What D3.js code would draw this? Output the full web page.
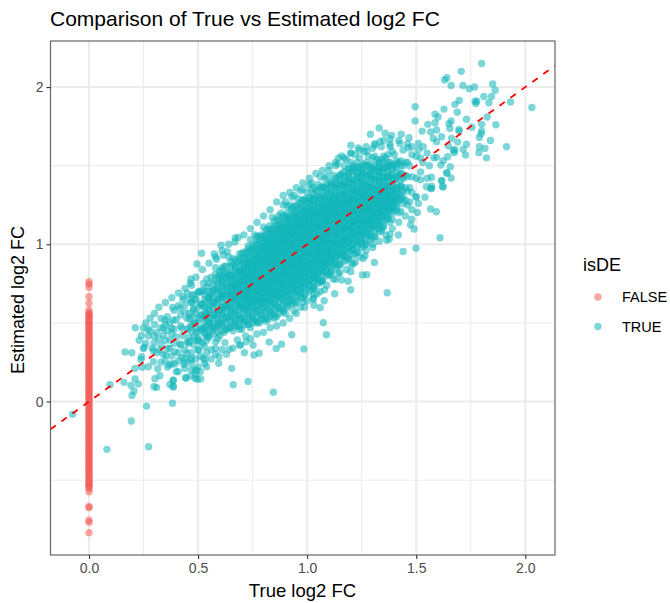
<!DOCTYPE html>
<html><head><meta charset="utf-8">
<script src="https://cdn.jsdelivr.net/npm/d3@7/dist/d3.min.js"></script>
<style>html,body{margin:0;padding:0;background:#fff}svg{display:block}text{font-family:"Liberation Sans",Arial,sans-serif}</style>
</head><body><svg id="c" width="670" height="603"></svg>
<script>
const xMajor=[0,0.5,1,1.5,2], xMinor=[0.25,0.75,1.25,1.75];
const yMajor=[0,1,2], yMinor=[-0.5,0.5,1.5];
const xTickLabels=["0.0","0.5","1.0","1.5","2.0"], yTickLabels=["0","1","2"];
const legendLabels=["FALSE","TRUE"];
const notDE=[0.762,0.747,0.725,0.667,0.625,0.582,0.565,0.555,0.548,0.54,0.53,0.522,0.51,0.5,0.492,0.48,0.472,0.46,0.45,0.441,0.43,0.42,0.413,0.4,0.39,0.383,0.37,0.36,0.352,0.34,0.33,0.321,0.31,0.3,0.292,0.28,0.27,0.261,0.25,0.24,0.232,0.22,0.21,0.2,0.192,0.18,0.17,0.161,0.15,0.14,0.13,0.122,0.11,0.1,0.091,0.08,0.07,0.062,0.05,0.04,0.03,0.02,0.012,0,-0.01,-0.02,-0.028,-0.04,-0.05,-0.06,-0.07,-0.08,-0.09,-0.1,-0.11,-0.12,-0.13,-0.14,-0.15,-0.16,-0.17,-0.18,-0.19,-0.2,-0.21,-0.22,-0.23,-0.24,-0.25,-0.26,-0.27,-0.28,-0.29,-0.3,-0.31,-0.32,-0.33,-0.34,-0.35,-0.36,-0.37,-0.38,-0.39,-0.4,-0.41,-0.42,-0.43,-0.44,-0.45,-0.46,-0.47,-0.48,-0.49,-0.5,-0.51,-0.52,-0.53,-0.535,-0.545,-0.553,-0.574,-0.668,-0.675,-0.755,-0.767,-0.834];
// scattered outer points: [true, estimated]
const deX=[1.8,1.706,1.64,1.63,1.66,1.714,1.743,1.767,1.85,1.862,1.81,1.845,1.833,1.932,2.03,1.777,1.773,1.77,1.697,1.677,1.495,1.495,1.627,1.688,1.586,1.6,1.825,1.73,1.66,1.65,1.654,1.553,1.586,1.8,1.865,1.696,1.696,1.755,1.8,1.797,1.789,1.84,1.527,1.566,1.593,1.578,1.616,1.467,1.662,1.69,1.73,1.914,1.79,1.815,1.787,1.822,1.647,1.715,1.67,1.674,1.726,1.644,1.624,1.613,1.656,1.593,1.64,1.66,1.616,1.62,1.567,1.566,1.592,1.505,1.49,1.479,1.474,1.33,1.29,1.357,1.387,1.431,1.2,1.234,1.2,1.273,1.158,1.143,1.334,1.31,1.38,1.425,1.463,1.51,1.532,1.593,1.677,1.64,1.617,1.624,1.57,1.547,1.57,1.609,1.418,1.38,1.341,1.499,1.376,1.364,1.499,1.44,1.302,1.308,1.265,1.257,1.22,1.273,1.253,1.367,1.2,1.188,1.2,1.126,1.08,1.078,1.074,1.088,0.929,0.985,1.06,1.028,1.028,1.031,0.988,1.046,1.031,0.94,0.982,1.13,1.158,1.104,1.143,1.066,1.204,1.18,0.605,0.516,0.495,0.467,0.464,0.574,0.58,0.684,0.669,0.634,0.615,0.585,0.524,0.577,0.6,0.383,0.432,0.47,0.501,0.654,0.661,0.729,0.845,0.883,0.858,0.826,0.78,0.756,0.752,0.712,0.718,0.68,0.695,0.643,0.623,0.594,0.596,0.58,0.539,0.532,0.512,0.496,0.466,0.443,0.486,0.409,0.386,0.386,0.394,0.435,0.425,0.448,0.463,0.394,0.417,0.455,0.501,0.501,0.539,0.386,0.425,0.417,0.448,0.486,0.532,0.555,0.593,0.478,0.516,0.486,0.44,0.555,0.212,0.249,0.33,0.359,0.28,0.272,0.299,0.348,0.341,0.379,0.299,0.341,0.371,0.371,0.165,0.196,0.249,0.241,0.238,0.295,0.295,0.325,0.353,0.211,0.244,0.272,0.315,0.368,0.325,0.302,0.298,0.31,0.211,0.16,0.192,0.226,0.206,0.197,0.096,-0.075,0.264,0.383,0.194,0.082,0.273,0.371,0.386,0.386,0.445,0.486,0.493,0.47,0.44,0.524,0.253];
const deY=[2.15,2.1,2.06,2.045,2.01,2.01,1.99,2,2.02,1.98,1.94,1.94,1.9,1.905,1.87,1.91,1.895,1.91,1.915,1.89,1.875,1.785,1.86,1.84,1.827,1.81,1.81,1.795,1.785,1.767,1.737,1.763,1.773,1.763,1.76,1.73,1.72,1.745,1.72,1.703,1.68,1.66,1.72,1.714,1.727,1.674,1.684,1.678,1.674,1.65,1.636,1.62,1.62,1.61,1.583,1.55,1.627,1.604,1.6,1.583,1.568,1.557,1.532,1.504,1.494,1.553,1.452,1.422,1.405,1.366,1.354,1.225,1.207,1.203,1.097,1.16,1.123,1.74,1.7,1.706,1.693,1.7,1.63,1.613,1.58,1.59,1.562,1.547,1.653,1.64,1.636,1.64,1.614,1.642,1.62,1.653,1.6,1.456,1.405,1.366,1.426,1.366,1.356,1.042,1.059,1.065,1.085,1.303,1.032,1.027,0.975,0.955,1,0.885,0.927,0.91,0.885,0.807,0.805,0.692,0.826,0.765,0.711,0.686,0.711,0.641,0.501,0.425,0.425,0.334,0.597,0.652,0.655,0.612,0.6,0.684,0.726,0.576,0.635,0.777,0.773,0.805,0.815,0.762,0.868,0.921,0.994,0.943,0.875,0.779,0.752,0.938,0.851,1.044,1.015,0.953,0.932,0.905,0.752,0.773,0.805,0.599,0.667,0.677,0.698,0.211,0.107,0.128,0.059,0.364,0.338,0.378,0.307,0.296,0.359,0.31,0.417,0.391,0.359,0.332,0.374,0.243,0.285,0.338,0.221,0.268,0.143,0.141,0.164,0.151,0.2,0.19,0.132,0.094,0.239,0.237,0.281,0.307,0.264,0.317,0.366,0.37,0.328,0.391,0.412,0.518,0.466,0.593,0.529,0.497,0.539,0.497,0.508,0.582,0.614,0.646,0.614,0.667,0.469,0.468,0.529,0.539,0.45,0.417,0.417,0.518,0.466,0.466,0.374,0.423,0.391,0.338,0.315,0.31,0.338,0.285,0.268,0.323,0.253,0.328,0.296,0.211,0.218,0.221,0.209,0.232,0.164,0.145,0.094,0.09,0.143,0.122,0.103,0.111,0.067,0.039,0.107,-0.081,-0.029,-0.011,-0.124,-0.304,-0.288,0.109,0.094,0.137,0.15,0.148,0.2,0.275,0.275,0.275,0.345];
// points around the rim of the band
const rimX=[0.45,0.47,0.43,0.41,0.39,0.44,0.46,0.42,0.4,0.37,0.35,0.33,0.31,0.36,0.39,0.42,0.45,0.47,0.5,0.52,0.49,0.46,0.43,0.4,0.38,0.35,0.32,0.33,0.36,0.39,0.42,0.45,0.48,0.51,0.53,0.5,0.47,0.44,0.41,0.38,0.35,0.38,0.41,0.44,0.47,0.49,0.51,0.54,0.56,0.58,0.56,0.53,0.5,0.47,0.49,0.51,0.44,0.61,0.63,0.66,0.69,0.72,0.74,0.77,0.8,0.83,0.86,0.89,0.92,0.95,0.97,1,1.03,1.06,1.09,1.12,1.15,1.18,1.21,1.24,1.27,1.3,1.33,1.36,1.39,1.42,1.45,1.48,1.51,1.54,1.57,1.55,1.52,1.56,1.53,1.58,1.55,1.51,1.48,1.46,1.42,1.38,1.35,1.31,1.27,1.24,1.2,1.17,1.13,1.1,1.07,1.04,1.01,0.98,0.95,0.92,0.89,0.86,0.83,0.8,0.77,0.74,0.71,0.67,0.64,0.61,0.58,0.55,0.52,0.49,0.47,0.44,0.41,0.38,0.35,0.32,0.3,0.28,0.26,0.3,0.27,0.24,0.23,0.26,0.29,0.31,0.34,0.33,0.36,0.4];
const rimY=[0.69,0.63,0.65,0.61,0.58,0.57,0.53,0.55,0.52,0.5,0.49,0.47,0.44,0.45,0.46,0.48,0.46,0.49,0.51,0.47,0.44,0.41,0.42,0.41,0.43,0.39,0.4,0.36,0.34,0.37,0.36,0.38,0.36,0.38,0.35,0.33,0.31,0.33,0.31,0.29,0.26,0.24,0.26,0.25,0.24,0.27,0.29,0.31,0.33,0.3,0.27,0.24,0.22,0.2,0.17,0.19,0.21,0.33,0.3,0.34,0.36,0.38,0.4,0.43,0.44,0.47,0.48,0.5,0.53,0.56,0.6,0.64,0.68,0.7,0.74,0.78,0.82,0.84,0.88,0.92,0.96,0.98,1.02,1.06,1.1,1.14,1.18,1.22,1.26,1.3,1.37,1.42,1.46,1.5,1.52,1.55,1.58,1.6,1.62,1.64,1.66,1.67,1.66,1.63,1.62,1.6,1.58,1.55,1.52,1.5,1.47,1.45,1.42,1.39,1.36,1.33,1.31,1.27,1.22,1.18,1.14,1.1,1.06,1.04,1,0.96,0.92,0.88,0.84,0.79,0.74,0.72,0.69,0.66,0.63,0.6,0.56,0.53,0.5,0.49,0.46,0.42,0.39,0.37,0.34,0.31,0.3,0.25,0.22,0.19];
// dense body of the cloud: one list of estimated values per true-value column
const coreX=[0.46,0.48,0.5,0.52,0.54,0.56,0.58,0.6,0.62,0.64,0.66,0.68,0.7,0.72,0.74,0.76,0.78,0.8,0.82,0.84,0.86,0.88,0.9,0.92,0.94,0.96,0.98,1,1.02,1.04,1.06,1.08,1.1,1.12,1.14,1.16,1.18,1.2,1.22,1.24,1.26,1.28,1.3,1.32,1.34,1.36,1.38,1.4,1.42,1.44,1.46,1.48,1.5,1.52];
const coreY=[
[0.38,0.47,0.56,0.65],
[0.41,0.5,0.59,0.68],
[0.4,0.44,0.53,0.6,0.69],
[0.37,0.46,0.55,0.62,0.71],
[0.39,0.48,0.56,0.64,0.73,0.78],
[0.45,0.53,0.61,0.69,0.79],
[0.38,0.47,0.55,0.63,0.71,0.81],
[0.42,0.5,0.58,0.66,0.7,0.78,0.83],
[0.44,0.52,0.59,0.66,0.73,0.81,0.86],
[0.47,0.54,0.61,0.68,0.75,0.78,0.82,0.92],
[0.45,0.52,0.59,0.66,0.69,0.73,0.76,0.8,0.87,0.91],
[0.48,0.55,0.62,0.65,0.68,0.72,0.75,0.78,0.82,0.89],
[0.46,0.53,0.6,0.63,0.67,0.7,0.73,0.77,0.8,0.83,0.87,0.94],
[0.51,0.58,0.61,0.64,0.68,0.71,0.74,0.78,0.81,0.84,0.88,0.91,0.95],
[0.47,0.54,0.61,0.65,0.68,0.72,0.75,0.79,0.82,0.85,0.89,0.92,0.96,1.03],
[0.52,0.59,0.63,0.66,0.7,0.73,0.76,0.8,0.83,0.87,0.9,0.93,0.97,1,1.06],
[0.5,0.57,0.61,0.64,0.67,0.71,0.74,0.78,0.81,0.84,0.88,0.91,0.94,0.98,1.01,1.05],
[0.53,0.6,0.64,0.67,0.71,0.75,0.78,0.82,0.85,0.89,0.92,0.95,0.99,1.02,1.05,1.11],
[0.52,0.59,0.63,0.66,0.7,0.73,0.76,0.8,0.83,0.86,0.9,0.93,0.97,1,1.03,1.07,1.1],
[0.55,0.62,0.66,0.69,0.72,0.76,0.79,0.83,0.86,0.89,0.93,0.96,1,1.03,1.07,1.1,1.17],
[0.54,0.61,0.65,0.68,0.71,0.75,0.78,0.82,0.85,0.88,0.92,0.95,0.99,1.02,1.05,1.09,1.12,1.16],
[0.59,0.66,0.69,0.72,0.76,0.79,0.83,0.86,0.9,0.93,0.96,1,1.03,1.07,1.1,1.13,1.2],
[0.56,0.63,0.67,0.7,0.73,0.77,0.8,0.84,0.87,0.91,0.94,0.97,1.01,1.04,1.08,1.11,1.14,1.18,1.27],
[0.64,0.67,0.71,0.74,0.77,0.81,0.84,0.88,0.91,0.94,0.98,1.01,1.05,1.08,1.11,1.15,1.18,1.25],
[0.62,0.69,0.72,0.76,0.79,0.82,0.86,0.89,0.93,0.96,0.99,1.03,1.06,1.1,1.13,1.17,1.2,1.24,1.31],
[0.68,0.71,0.74,0.78,0.81,0.85,0.88,0.91,0.95,0.98,1.02,1.05,1.08,1.12,1.15,1.19,1.22,1.29],
[0.66,0.73,0.77,0.8,0.83,0.87,0.9,0.94,0.97,1,1.04,1.07,1.11,1.14,1.17,1.21,1.24,1.28,1.35],
[0.72,0.76,0.79,0.83,0.86,0.89,0.93,0.96,1,1.03,1.06,1.1,1.13,1.17,1.2,1.23,1.27,1.33],
[0.71,0.78,0.81,0.85,0.88,0.92,0.95,0.98,1.02,1.05,1.09,1.12,1.15,1.19,1.22,1.26,1.29,1.35,1.39],
[0.77,0.8,0.83,0.87,0.9,0.94,0.97,1,1.04,1.07,1.11,1.14,1.17,1.21,1.24,1.28,1.34],
[0.76,0.83,0.86,0.89,0.93,0.96,1,1.03,1.06,1.1,1.13,1.17,1.2,1.23,1.27,1.3,1.36,1.43],
[0.82,0.86,0.89,0.92,0.96,0.99,1.03,1.06,1.09,1.13,1.16,1.2,1.23,1.26,1.3,1.36,1.42],
[0.81,0.88,0.91,0.95,0.98,1.02,1.05,1.08,1.12,1.15,1.19,1.22,1.25,1.29,1.32,1.38,1.47],
[0.87,0.91,0.94,0.97,1.01,1.04,1.08,1.11,1.14,1.18,1.21,1.25,1.28,1.31,1.37,1.44],
[0.86,0.93,0.96,1,1.03,1.07,1.1,1.13,1.17,1.2,1.24,1.27,1.3,1.36,1.42,1.51],
[0.92,0.95,0.99,1.02,1.05,1.09,1.12,1.16,1.19,1.22,1.26,1.29,1.32,1.38,1.45],
[0.9,0.97,1.01,1.04,1.08,1.11,1.14,1.18,1.21,1.25,1.28,1.31,1.37,1.43,1.54],
[0.96,0.99,1.03,1.06,1.1,1.13,1.16,1.2,1.23,1.27,1.3,1.33,1.39,1.46,1.52],
[0.94,1.01,1.05,1.08,1.12,1.15,1.18,1.22,1.25,1.29,1.32,1.35,1.41,1.48,1.57],
[1,1.03,1.07,1.1,1.14,1.17,1.2,1.24,1.27,1.3,1.34,1.37,1.43,1.49,1.55],
[0.99,1.06,1.09,1.13,1.16,1.2,1.23,1.26,1.3,1.33,1.36,1.39,1.45,1.51,1.59],
[1.05,1.08,1.12,1.15,1.18,1.22,1.25,1.29,1.32,1.35,1.38,1.44,1.5,1.56],
[1.04,1.11,1.14,1.17,1.21,1.24,1.28,1.31,1.34,1.37,1.43,1.49,1.55,1.61],
[1.1,1.14,1.17,1.2,1.24,1.27,1.3,1.33,1.36,1.42,1.48,1.54],
[1.1,1.17,1.21,1.24,1.27,1.3,1.33,1.36,1.42,1.48,1.54,1.62],
[1.16,1.19,1.23,1.26,1.29,1.32,1.35,1.41,1.48,1.55],
[1.14,1.22,1.25,1.28,1.31,1.34,1.37,1.44,1.52,1.62],
[1.21,1.24,1.28,1.31,1.34,1.41,1.49,1.57],
[1.2,1.28,1.32,1.36,1.44,1.52],
[1.26,1.3,1.34,1.42,1.5,1.6],
[1.25,1.34,1.43,1.52],
[1.33,1.43,1.57],
[1.3,1.42,1.56],
[1.41,1.55]];
const coreXB=[0.61,0.65,0.69,0.73,0.77,0.81,0.85,0.89,0.93,0.97,1.01,1.05,1.09,1.13,1.17,1.21,1.25,1.29,1.33,1.37];
const coreYB=[
[0.6,0.68,0.76],[0.58,0.66,0.73,0.8],[0.61,0.68,0.75,0.82],[0.6,0.66,0.73,0.8,0.87],
[0.64,0.7,0.77,0.84,0.91],[0.66,0.74,0.81,0.88,0.94],[0.7,0.78,0.85,0.92,0.99],[0.74,0.82,0.89,0.96,1.04],
[0.78,0.86,0.93,1,1.08],[0.82,0.9,0.97,1.04,1.12],[0.86,0.94,1.01,1.08,1.16],[0.9,0.98,1.05,1.12,1.2],
[0.95,1.02,1.09,1.16,1.24],[1,1.06,1.13,1.2,1.28],[1.03,1.1,1.17,1.24,1.32],[1.07,1.14,1.21,1.28,1.36],
[1.12,1.18,1.25,1.32,1.4],[1.16,1.22,1.29,1.36,1.44],[1.2,1.27,1.33,1.4,1.46],[1.24,1.31,1.37,1.43,1.5]];
const coreXC=[0.47,0.49,0.51,0.53,0.55,0.57,0.59,0.61,0.63,0.65,0.67,0.69,0.71,0.73,0.75,0.77,0.79,0.81,0.83,0.85,0.87,0.89,0.91,0.93,0.95,0.97,0.99,1.01,1.03,1.05,1.07,1.09,1.11,1.13,1.15,1.17,1.19,1.21,1.23,1.25,1.27,1.29,1.31,1.33,1.35,1.37,1.39,1.41,1.43,1.45,1.47];
const coreYC=[
[0.45,0.54,0.63],
[0.39,0.47,0.56,0.65],
[0.46,0.55,0.62,0.7],
[0.44,0.53,0.6,0.68],
[0.41,0.5,0.58,0.66,0.75],
[0.47,0.55,0.63,0.71],
[0.4,0.49,0.57,0.65,0.73],
[0.48,0.56,0.6,0.68,0.76,0.85],
[0.46,0.53,0.61,0.68,0.72,0.79],
[0.48,0.55,0.63,0.7,0.73,0.8,0.89],
[0.5,0.57,0.64,0.67,0.71,0.74,0.78,0.85],
[0.46,0.53,0.6,0.66,0.7,0.73,0.76,0.83,0.91],
[0.51,0.58,0.61,0.65,0.68,0.71,0.75,0.78,0.81,0.85,0.92],
[0.49,0.56,0.62,0.66,0.69,0.72,0.76,0.79,0.82,0.86,0.89,0.97],
[0.52,0.59,0.63,0.66,0.7,0.73,0.77,0.8,0.83,0.87,0.9,0.97],
[0.5,0.57,0.64,0.68,0.71,0.74,0.78,0.81,0.85,0.88,0.91,0.95,1.05],
[0.55,0.62,0.65,0.69,0.72,0.76,0.79,0.82,0.86,0.89,0.92,0.96,0.99,1.06],
[0.51,0.58,0.65,0.69,0.73,0.76,0.8,0.83,0.87,0.9,0.93,0.97,1,1.03,1.09],
[0.57,0.64,0.68,0.71,0.74,0.78,0.81,0.84,0.88,0.91,0.95,0.98,1.01,1.05,1.12],
[0.53,0.6,0.67,0.7,0.74,0.77,0.81,0.84,0.87,0.91,0.94,0.98,1.01,1.05,1.08,1.15],
[0.59,0.66,0.69,0.73,0.76,0.8,0.83,0.86,0.9,0.93,0.97,1,1.03,1.07,1.1,1.18],
[0.57,0.64,0.7,0.74,0.77,0.81,0.84,0.88,0.91,0.94,0.98,1.01,1.05,1.08,1.11,1.18,1.25],
[0.61,0.68,0.71,0.75,0.78,0.82,0.85,0.89,0.92,0.95,0.99,1.02,1.06,1.09,1.12,1.16,1.24],
[0.65,0.72,0.75,0.79,0.82,0.86,0.89,0.92,0.96,0.99,1.03,1.06,1.09,1.13,1.16,1.23,1.3],
[0.63,0.7,0.74,0.77,0.8,0.84,0.87,0.91,0.94,0.97,1.01,1.04,1.08,1.11,1.15,1.18,1.25],
[0.69,0.72,0.76,0.79,0.83,0.86,0.89,0.93,0.96,1,1.03,1.06,1.1,1.13,1.17,1.2,1.27,1.34],
[0.68,0.75,0.78,0.81,0.85,0.88,0.92,0.95,0.98,1.02,1.05,1.09,1.12,1.15,1.19,1.22,1.29],
[0.74,0.77,0.81,0.84,0.87,0.91,0.94,0.98,1.01,1.04,1.08,1.11,1.15,1.18,1.21,1.28,1.38],
[0.73,0.79,0.83,0.86,0.9,0.93,0.96,1,1.03,1.07,1.1,1.13,1.17,1.2,1.24,1.3,1.36],
[0.78,0.81,0.85,0.88,0.92,0.95,0.98,1.02,1.05,1.09,1.12,1.15,1.19,1.22,1.29,1.38],
[0.77,0.84,0.87,0.91,0.94,0.98,1.01,1.04,1.08,1.11,1.15,1.18,1.21,1.25,1.31,1.37],
[0.84,0.87,0.9,0.94,0.97,1.01,1.04,1.07,1.11,1.14,1.18,1.21,1.24,1.28,1.34,1.43],
[0.83,0.9,0.93,0.96,1,1.03,1.07,1.1,1.13,1.17,1.2,1.23,1.27,1.33,1.39],
[0.89,0.92,0.95,0.99,1.02,1.06,1.09,1.12,1.16,1.19,1.22,1.26,1.32,1.38,1.5],
[0.87,0.94,0.98,1.01,1.04,1.08,1.11,1.15,1.18,1.21,1.25,1.31,1.37,1.44],
[0.93,0.96,1,1.03,1.06,1.1,1.13,1.17,1.2,1.23,1.27,1.33,1.39,1.5],
[0.91,0.98,1.02,1.05,1.09,1.12,1.15,1.19,1.22,1.26,1.29,1.35,1.41,1.48],
[0.97,1,1.04,1.07,1.11,1.14,1.17,1.21,1.24,1.28,1.34,1.4,1.5],
[0.95,1.02,1.06,1.09,1.13,1.16,1.19,1.23,1.26,1.29,1.33,1.39,1.45,1.52],
[1.02,1.05,1.08,1.12,1.15,1.19,1.22,1.25,1.28,1.35,1.41,1.47],
[1,1.07,1.1,1.14,1.17,1.21,1.24,1.27,1.31,1.37,1.43,1.52],
[1.06,1.1,1.13,1.16,1.2,1.23,1.26,1.3,1.36,1.42,1.48],
[1.05,1.12,1.16,1.19,1.22,1.26,1.29,1.35,1.41,1.47,1.56],
[1.12,1.15,1.19,1.22,1.25,1.28,1.34,1.4,1.46,1.52],
[1.11,1.18,1.22,1.25,1.28,1.31,1.37,1.43,1.49,1.56],
[1.17,1.21,1.24,1.27,1.3,1.36,1.42,1.5,1.57],
[1.16,1.23,1.26,1.29,1.35,1.42,1.5,1.59],
[1.22,1.26,1.3,1.36,1.43,1.51],
[1.21,1.29,1.37,1.45,1.53],
[1.28,1.36,1.44,1.52],
[1.27,1.36,1.5]];
const coreXD=[0.53,0.55,0.57,0.59,0.61,0.63,0.65,0.67,0.69,0.71,0.73,0.75,0.77,0.79,0.81,0.83,0.85,0.87,0.89,0.91,0.93,0.95,0.97,0.99,1.01,1.03,1.05,1.07,1.09,1.11,1.13,1.15,1.17,1.19,1.21,1.23,1.25,1.27,1.29,1.31,1.33,1.35,1.37,1.39,1.41,1.43];
const coreYD=[
[0.43,0.47,0.51,0.56,0.6,0.65,0.7],
[0.42,0.46,0.5,0.54,0.58,0.62,0.66,0.7],
[0.43,0.47,0.51,0.55,0.59,0.63,0.67,0.71,0.75],
[0.44,0.48,0.52,0.55,0.59,0.63,0.67,0.71,0.75,0.79],
[0.45,0.49,0.53,0.56,0.6,0.64,0.67,0.71,0.75,0.79,0.83],
[0.46,0.5,0.54,0.57,0.61,0.64,0.68,0.71,0.75,0.79,0.82,0.86],
[0.47,0.51,0.54,0.58,0.61,0.65,0.68,0.72,0.75,0.79,0.82,0.86],
[0.48,0.51,0.55,0.58,0.62,0.65,0.69,0.72,0.76,0.79,0.83,0.86,0.9],
[0.48,0.52,0.55,0.59,0.62,0.66,0.69,0.73,0.76,0.8,0.83,0.87,0.9,0.94],
[0.49,0.53,0.56,0.6,0.63,0.67,0.7,0.74,0.77,0.81,0.84,0.88,0.91,0.95],
[0.49,0.53,0.57,0.6,0.64,0.67,0.71,0.74,0.78,0.81,0.85,0.88,0.92,0.95,0.99],
[0.5,0.54,0.57,0.61,0.64,0.68,0.71,0.75,0.78,0.82,0.85,0.89,0.92,0.96,0.99],
[0.51,0.54,0.58,0.61,0.65,0.68,0.72,0.75,0.79,0.82,0.86,0.89,0.93,0.96,1,1.03],
[0.52,0.55,0.59,0.62,0.66,0.69,0.73,0.76,0.8,0.83,0.87,0.9,0.94,0.97,1.01,1.04],
[0.53,0.56,0.6,0.63,0.67,0.7,0.74,0.77,0.81,0.84,0.88,0.91,0.95,0.98,1.02,1.06],
[0.54,0.57,0.61,0.64,0.68,0.71,0.75,0.78,0.82,0.85,0.89,0.92,0.96,0.99,1.03,1.06,1.09],
[0.55,0.58,0.62,0.65,0.69,0.72,0.76,0.79,0.83,0.86,0.9,0.93,0.97,1,1.04,1.07,1.11],
[0.56,0.6,0.63,0.67,0.7,0.74,0.77,0.81,0.84,0.88,0.91,0.95,0.98,1.02,1.05,1.09,1.12,1.15],
[0.58,0.61,0.65,0.68,0.72,0.75,0.79,0.82,0.86,0.89,0.93,0.96,1,1.03,1.07,1.1,1.14,1.17],
[0.6,0.63,0.67,0.7,0.74,0.77,0.81,0.84,0.88,0.91,0.95,0.98,1.02,1.05,1.09,1.12,1.16,1.2],
[0.62,0.65,0.69,0.72,0.76,0.79,0.83,0.86,0.9,0.93,0.97,1,1.04,1.07,1.11,1.14,1.18,1.22],
[0.64,0.67,0.71,0.74,0.78,0.81,0.85,0.88,0.92,0.95,0.99,1.02,1.06,1.09,1.13,1.16,1.2,1.24],
[0.66,0.69,0.73,0.76,0.8,0.83,0.87,0.9,0.94,0.97,1.01,1.04,1.08,1.11,1.15,1.18,1.22,1.26],
[0.68,0.72,0.75,0.79,0.82,0.86,0.89,0.93,0.96,1,1.03,1.07,1.1,1.14,1.17,1.21,1.24,1.28],
[0.7,0.74,0.77,0.81,0.84,0.88,0.91,0.95,0.98,1.02,1.05,1.09,1.12,1.16,1.19,1.23,1.26,1.3],
[0.72,0.76,0.79,0.83,0.86,0.9,0.93,0.97,1,1.04,1.07,1.11,1.14,1.18,1.21,1.25,1.28,1.32],
[0.75,0.78,0.82,0.85,0.89,0.92,0.96,0.99,1.03,1.06,1.1,1.13,1.17,1.2,1.24,1.27,1.3,1.34],
[0.77,0.81,0.84,0.88,0.91,0.95,0.98,1.02,1.05,1.09,1.12,1.16,1.19,1.23,1.26,1.29,1.33,1.36],
[0.8,0.83,0.87,0.9,0.94,0.97,1.01,1.04,1.08,1.11,1.15,1.18,1.22,1.25,1.28,1.31,1.35,1.38],
[0.82,0.86,0.89,0.93,0.96,1,1.03,1.07,1.1,1.14,1.17,1.21,1.24,1.27,1.3,1.34,1.37,1.4],
[0.85,0.88,0.92,0.95,0.99,1.02,1.06,1.09,1.13,1.16,1.2,1.23,1.26,1.29,1.33,1.36,1.39,1.42],
[0.87,0.91,0.94,0.98,1.01,1.05,1.08,1.12,1.15,1.19,1.22,1.25,1.28,1.32,1.35,1.38,1.41,1.44],
[0.89,0.93,0.96,1,1.03,1.07,1.1,1.14,1.17,1.21,1.24,1.27,1.3,1.34,1.37,1.4,1.43,1.46],
[0.91,0.95,0.98,1.02,1.05,1.09,1.12,1.16,1.19,1.23,1.26,1.29,1.32,1.36,1.39,1.42,1.45,1.48],
[0.93,0.97,1,1.04,1.07,1.11,1.14,1.18,1.21,1.25,1.28,1.31,1.34,1.38,1.41,1.44,1.47,1.49],
[0.95,0.99,1.02,1.06,1.09,1.13,1.16,1.2,1.23,1.27,1.3,1.33,1.36,1.4,1.43,1.46,1.49],
[0.98,1.01,1.05,1.08,1.12,1.15,1.19,1.22,1.25,1.29,1.32,1.35,1.38,1.42,1.45,1.48,1.5],
[1,1.03,1.07,1.1,1.14,1.17,1.21,1.24,1.27,1.31,1.34,1.37,1.4,1.44,1.47,1.5],
[1.03,1.06,1.1,1.13,1.16,1.2,1.23,1.26,1.29,1.33,1.36,1.39,1.42,1.45,1.48,1.51],
[1.05,1.09,1.12,1.16,1.19,1.22,1.25,1.28,1.31,1.35,1.38,1.41,1.44,1.47,1.5],
[1.08,1.12,1.15,1.19,1.22,1.25,1.28,1.31,1.34,1.37,1.4,1.43,1.46,1.49,1.52],
[1.12,1.15,1.18,1.22,1.25,1.28,1.31,1.34,1.37,1.4,1.43,1.46,1.49,1.52],
[1.16,1.19,1.22,1.25,1.28,1.31,1.34,1.37,1.4,1.43,1.46,1.49,1.52],
[1.2,1.23,1.26,1.29,1.32,1.35,1.38,1.42,1.45,1.48,1.51],
[1.24,1.28,1.32,1.35,1.38,1.42,1.45,1.49,1.53],
[1.29,1.33,1.37,1.41,1.45,1.5]];

const W=670,H=603,pLeft=50.5,pRight=555,pTop=41,pBottom=555;
const x=d3.scaleLinear().domain([-0.1765,2.136]).range([pLeft,pRight]);
const y=d3.scaleLinear().domain([-0.976,2.293]).range([pBottom,pTop]);
const teal="#12B6BA",red="#F35C56",A=0.55;
const svg=d3.select("#c");
svg.append("rect").attr("width",W).attr("height",H).attr("fill","#fff");
const gridG=svg.append("g").attr("stroke","#EBEBEB").attr("fill","none");
const vl=(v,w)=>gridG.append("line").attr("x1",x(v)).attr("x2",x(v)).attr("y1",pTop).attr("y2",pBottom).attr("stroke-width",w);
const hl=(v,w)=>gridG.append("line").attr("y1",y(v)).attr("y2",y(v)).attr("x1",pLeft).attr("x2",pRight).attr("stroke-width",w);
xMinor.forEach(v=>vl(v,1));yMinor.forEach(v=>hl(v,1));
xMajor.forEach(v=>vl(v,2));yMajor.forEach(v=>hl(v,2));
const clip=svg.append("clipPath").attr("id","p").append("rect").attr("x",pLeft).attr("y",pTop).attr("width",pRight-pLeft).attr("height",pBottom-pTop);
const pts=svg.append("g");
const R=3.7;
const dot=(px,py,c)=>pts.append("circle").attr("cx",x(px)).attr("cy",y(py)).attr("r",R).attr("fill",c).attr("fill-opacity",A);
notDE.forEach(v=>dot(0,v,red));
deX.forEach((v,i)=>dot(v,deY[i],teal));
rimX.forEach((v,i)=>dot(v,rimY[i],teal));
coreX.forEach((v,i)=>coreY[i].forEach(u=>dot(v,u,teal)));
coreXB.forEach((v,i)=>coreYB[i].forEach(u=>dot(v,u,teal)));
coreXC.forEach((v,i)=>coreYC[i].forEach(u=>dot(v,u,teal)));
coreXD.forEach((v,i)=>coreYD[i].forEach(u=>dot(v,u,teal)));
svg.append("line").attr("clip-path","url(#p)").attr("x1",x(-0.1765)).attr("y1",y(-0.1765)).attr("x2",x(2.136)).attr("y2",y(2.136)).attr("stroke","#FF0000").attr("stroke-width",1.8).attr("stroke-dasharray","6.5 7");
svg.append("rect").attr("x",pLeft).attr("y",pTop).attr("width",pRight-pLeft).attr("height",pBottom-pTop).attr("fill","none").attr("stroke","#666").attr("stroke-width",1.2);
const ax=svg.append("g").attr("transform",`translate(0,${pBottom})`).call(d3.axisBottom(x).tickValues(xMajor).tickFormat((d,i)=>xTickLabels[i]).tickSize(4).tickPadding(4));
const ay=svg.append("g").attr("transform",`translate(${pLeft},0)`).call(d3.axisLeft(y).tickValues(yMajor).tickFormat((d,i)=>yTickLabels[i]).tickSize(4).tickPadding(3));
[ax,ay].forEach(g=>{g.select(".domain").remove();g.selectAll("line").attr("stroke","#333").attr("stroke-width",1.1);g.selectAll("text").attr("fill","#4D4D4D").style("font-size","14px").style("font-family",'"Liberation Sans",Arial,sans-serif');});
svg.append("text").attr("x",50).attr("y",25.5).attr("font-size",21).attr("fill","#000").text("Comparison of True vs Estimated log2 FC");
svg.append("text").attr("x",302.5).attr("y",597).attr("text-anchor","middle").attr("font-size",18.5).attr("fill","#000").text("True log2 FC");
svg.append("text").attr("transform","translate(24,300) rotate(-90)").attr("text-anchor","middle").attr("font-size",18).attr("fill","#000").text("Estimated log2 FC");
svg.append("text").attr("x",583).attr("y",271).attr("font-size",18).attr("fill","#000").text("isDE");
legendLabels.forEach((t,i)=>{
  const yy=297+i*29.5;
  svg.append("circle").attr("cx",598).attr("cy",yy).attr("r",R).attr("fill",i?teal:red).attr("fill-opacity",A);
  svg.append("text").attr("x",622).attr("y",yy+5).attr("font-size",14.5).attr("fill","#000").text(t);
});
</script></body></html>
